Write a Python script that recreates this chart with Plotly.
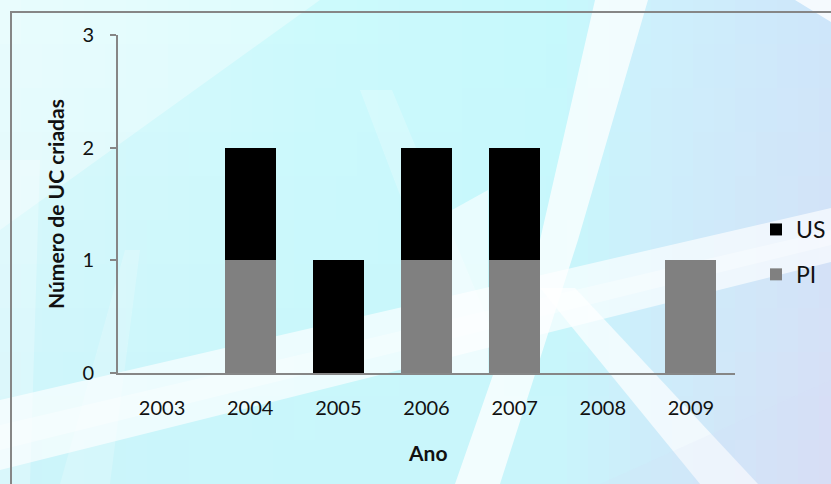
import plotly.graph_objects as go

# ---- data ----
anos = ["2003", "2004", "2005", "2006", "2007", "2008", "2009"]
pi_vals = [0, 1, 0, 1, 1, 0, 1]
us_vals = [0, 1, 1, 1, 1, 0, 0]
y_ticks = [0, 1, 2, 3]

W, H = 831, 484
L, R, T, B = 118, 96, 35, 111
PW, PH = W - L - R, H - T - B


def px(xp):
    return (xp - L) / PW


def py(yp):
    return (H - B - yp) / PH


def lerp(a, b, t):
    return tuple(a[i] + (b[i] - a[i]) * t for i in range(3))


# background colour columns: (x, top colour, bottom colour)
cols = [
    (0, (222, 250, 252), (204, 244, 250)),
    (300, (205, 250, 252), (200, 246, 251)),
    (560, (198, 249, 252), (201, 245, 251)),
    (650, (206, 240, 252), (205, 236, 250)),
    (831, (206, 230, 250), (216, 222, 245)),
]


def bgcol(x, y):
    for i in range(len(cols) - 1):
        x0, t0, b0 = cols[i]
        x1, t1, b1 = cols[i + 1]
        if x0 <= x <= x1:
            tx = (x - x0) / (x1 - x0)
            top = lerp(t0, t1, tx)
            bot = lerp(b0, b1, tx)
            c = lerp(top, bot, y / H)
            return "rgb(%d,%d,%d)" % tuple(int(round(v)) for v in c)
    return "rgb(205,232,250)"


shapes = []
cw, ch = 21, 44
for gx in range(0, W, cw):
    for gy in range(0, H, ch):
        shapes.append(dict(type="rect", xref="paper", yref="paper",
                           x0=px(gx), x1=px(min(gx + cw, W) + 1),
                           y0=py(gy), y1=py(min(gy + ch, H) + 1),
                           fillcolor=bgcol(gx + cw / 2, gy + ch / 2),
                           line=dict(width=0), layer="below"))


def poly(pts, op, color="white"):
    d = "M" + " L".join("%f,%f" % (px(a), py(b)) for a, b in pts) + " Z"
    shapes.append(dict(type="path", xref="paper", yref="paper", path=d,
                       fillcolor=color, opacity=op, line=dict(width=0),
                       layer="below"))


# soft light streaks of the background
poly([(0, 0), (320, 0), (0, 230)], 0.35)
poly([(0, 160), (40, 160), (30, 484), (0, 484)], 0.25)
poly([(60, 484), (110, 484), (140, 250), (125, 250)], 0.2)
poly([(595, 0), (648, 0), (578, 240), (500, 484), (455, 484), (540, 240)], 0.75)
poly([(360, 90), (392, 90), (492, 330), (490, 374), (452, 374), (440, 300)], 0.22)
poly([(452, 210), (488, 190), (488, 374), (452, 374)], 0.6)
poly([(0, 400), (831, 208), (831, 262), (0, 470)], 0.65)
poly([(0, 425), (831, 230), (831, 245), (0, 450)], 0.35)
poly([(540, 288), (575, 288), (758, 484), (700, 484)], 0.7)
poly([(795, 0), (831, 0), (831, 22)], 0.8)
poly([(600, 484), (831, 380), (831, 484)], 0.15, "rgb(215,220,245)")

# chart border
shapes.append(dict(type="rect", xref="paper", yref="paper",
                   x0=px(11), x1=px(845), y0=py(12), y1=py(500),
                   line=dict(color="#868686", width=2), layer="below",
                   fillcolor="rgba(0,0,0,0)"))

fig = go.Figure()
fig.add_trace(go.Bar(x=anos, y=pi_vals, name="PI", marker_color="#808080",
                     marker_line_width=0, legendgroup="pi", legendrank=2))
fig.add_trace(go.Bar(x=anos, y=us_vals, name="US", marker_color="#000000",
                     marker_line_width=0, legendgroup="us", legendrank=1))

fig.update_layout(
    width=W, height=H,
    margin=dict(l=L, r=R, t=T, b=B, autoexpand=False),
    barmode="stack", bargap=0.42,
    paper_bgcolor="rgb(200,246,251)",
    plot_bgcolor="rgba(0,0,0,0)",
    font=dict(family="Lato, sans-serif", color="#111111"),
    shapes=shapes,
    showlegend=True,
    legend=dict(x=px(756), y=py(252), xanchor="left", yanchor="middle",
                traceorder="grouped", tracegroupgap=12,
                bgcolor="rgba(0,0,0,0)", font=dict(size=23, color="#111111")),
    annotations=[
        dict(text="<b>Número de UC criadas</b>", x=px(55), y=py(204),
             xref="paper", yref="paper", textangle=-90, showarrow=False,
             xanchor="center", yanchor="middle",
             font=dict(size=21, color="#111111")),
        dict(text="<b>Ano</b>", x=px(427), y=py(453), xref="paper",
             yref="paper", showarrow=False, xanchor="center",
             yanchor="middle", font=dict(size=21, color="#111111")),
    ],
)
fig.update_xaxes(showline=True, linecolor="#868686", linewidth=2,
                 ticks="", showgrid=False, zeroline=False,
                 tickfont=dict(size=20), ticklabelstandoff=16)
fig.update_yaxes(range=[0, 3], tickvals=y_ticks, showline=True,
                 linecolor="#868686", linewidth=2, ticks="outside",
                 ticklen=6, tickwidth=2, tickcolor="#868686",
                 showgrid=False, zeroline=False,
                 tickfont=dict(size=20), ticklabelstandoff=12)

fig.write_html("out.html", config={"displayModeBar": False},
               post_script="document.body.style.margin='0';"
                           "document.body.style.overflow='hidden';")
